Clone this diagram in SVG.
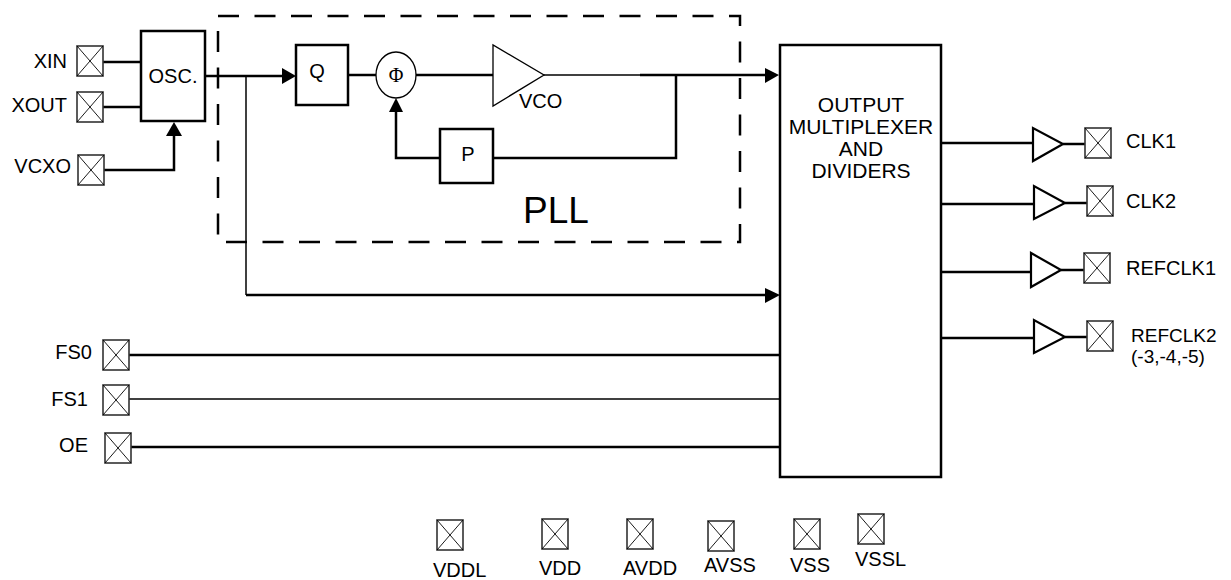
<svg xmlns="http://www.w3.org/2000/svg" xmlns:xlink="http://www.w3.org/1999/xlink" width="1231" height="580" viewBox="0 0 1231 580">
<style>
  text { font-family: "Liberation Sans", Arial, sans-serif; font-size: 20px; fill: #000; }
  .box { fill: #fff; stroke: #000; stroke-width: 2.5; }
  .thin { fill: #fff; stroke: #000; stroke-width: 1.3; }
  .w { fill: none; stroke: #000; stroke-width: 2.5; }
  .wt { fill: none; stroke: #000; stroke-width: 1.5; }
  .ah { fill: #000; stroke: none; }
  .buf { fill: #fff; stroke: #000; stroke-width: 2.2; }
  .big { font-size: 21px; }
  .pll { font-size: 37px; }
  .sm { font-size: 19px; }
  .mid { text-anchor: middle; }
  .end { text-anchor: end; }
</style>
<defs>
  <symbol id="pad" viewBox="0 0 26 30" width="26" height="30" overflow="visible">
    <rect x="0" y="0" width="26" height="30" fill="#fff" stroke="#333" stroke-width="1.6"/>
    <path d="M0,0 L26,30 M26,0 L0,30" stroke="#000" stroke-width="0.9" fill="none"/>
  </symbol>
</defs>
<rect width="1231" height="580" fill="#fff"/>

<g id="pll-frame">
  <rect x="218" y="16" width="522" height="226" fill="none" stroke="#000" stroke-width="2.5" stroke-dasharray="21 15.5"/>
  <text class="pll" x="523" y="223">PLL</text>
</g>

<g id="connectors">
  <path class="w" d="M102,62 H141"/>
  <path class="w" d="M102,107 H141"/>
  <path class="w" d="M104,170 H174 V134"/>
  <polygon class="ah" points="174,122 166,136 182,136"/>
  <path class="w" d="M205,76 H283"/>
  <polygon class="ah" points="296,76 282,68 282,84"/>
  <path class="wt" d="M246,76 V295"/>
  <path class="w" d="M246,295 H766"/>
  <polygon class="ah" points="780,295 765,288 765,303"/>
  <path class="w" d="M348,75 H376"/>
  <path class="w" d="M416,75 H493"/>
  <path class="wt" d="M544,75 H640"/>
  <path class="w" d="M640,75 H766"/>
  <polygon class="ah" points="779,75 765,68 765,83"/>
  <path class="w" d="M676,75 V158 H493"/>
  <path class="w" d="M440,158 H396 V112"/>
  <polygon class="ah" points="396,98 389,112 403,112"/>
  <path class="w" d="M129,355 H780"/>
  <path class="wt" d="M129,399 H780"/>
  <path class="w" d="M131,447 H780"/>
  <path class="w" d="M941,143 H1033"/>
  <path class="w" d="M1063,144 H1085"/>
  <path class="w" d="M941,204 H1034"/>
  <path class="w" d="M1065,203 H1087"/>
  <path class="w" d="M941,272 H1031"/>
  <path class="w" d="M1061,270 H1084"/>
  <path class="w" d="M941,338 H1034"/>
  <path class="w" d="M1065,337 H1087"/>
</g>

<g id="osc">
  <rect class="box" x="141" y="31" width="64" height="90"/>
  <text class="mid" x="173" y="83">OSC.</text>
</g>
<g id="q">
  <rect class="box" x="296" y="45" width="52" height="60"/>
  <text class="mid" x="317" y="78">Q</text>
</g>
<g id="phi">
  <ellipse class="thin" cx="396" cy="75" rx="20" ry="23"/>
  <text class="mid" x="396" y="82" style="font-family:'Liberation Serif','Times New Roman',serif;font-size:20px">Φ</text>
</g>
<g id="vco">
  <polygon class="thin" points="493,45 493,106 544,75"/>
  <text x="519" y="108">VCO</text>
</g>
<g id="p">
  <rect class="box" x="440" y="129" width="53" height="54"/>
  <text class="mid" x="468" y="161">P</text>
</g>
<g id="mux">
  <rect class="box" x="780" y="45" width="161" height="432"/>
  <text class="big mid" x="861" y="112">OUTPUT</text>
  <text class="big mid" x="861" y="134">MULTIPLEXER</text>
  <text class="big mid" x="861" y="156">AND</text>
  <text class="big mid" x="861" y="178">DIVIDERS</text>
</g>

<g id="buf-clk1"><polygon class="buf" points="1033,128 1033,161 1063,144"/></g>
<g id="buf-clk2"><polygon class="buf" points="1034,186 1034,219 1065,203"/></g>
<g id="buf-refclk1"><polygon class="buf" points="1031,253 1031,287 1061,270"/></g>
<g id="buf-refclk2"><polygon class="buf" points="1034,320 1034,353 1065,337"/></g>

<g id="pad-xin"><use xlink:href="#pad" x="77" y="46"/><text class="end" x="67" y="68">XIN</text></g>
<g id="pad-xout"><use xlink:href="#pad" x="77" y="92"/><text class="end" x="67" y="112">XOUT</text></g>
<g id="pad-vcxo"><use xlink:href="#pad" x="78" y="155"/><text class="end" x="71" y="173">VCXO</text></g>
<g id="pad-fs0"><use xlink:href="#pad" x="103" y="340"/><text class="end" x="92" y="359">FS0</text></g>
<g id="pad-fs1"><use xlink:href="#pad" x="103" y="385"/><text class="end" x="88" y="406">FS1</text></g>
<g id="pad-oe"><use xlink:href="#pad" x="105" y="433"/><text class="end" x="88" y="452">OE</text></g>
<g id="pad-clk1"><use xlink:href="#pad" x="1085" y="128"/><text x="1126" y="148">CLK1</text></g>
<g id="pad-clk2"><use xlink:href="#pad" x="1087" y="186"/><text x="1126" y="208">CLK2</text></g>
<g id="pad-refclk1"><use xlink:href="#pad" x="1084" y="253"/><text x="1126" y="275">REFCLK1</text></g>
<g id="pad-refclk2"><use xlink:href="#pad" x="1087" y="321"/><text class="sm" x="1131" y="342">REFCLK2</text><text class="sm" x="1131" y="363">(-3,-4,-5)</text></g>
<g id="pad-vddl"><use xlink:href="#pad" x="437" y="520"/><text x="433" y="577">VDDL</text></g>
<g id="pad-vdd"><use xlink:href="#pad" x="542" y="519"/><text x="539" y="575">VDD</text></g>
<g id="pad-avdd"><use xlink:href="#pad" x="627" y="519"/><text x="623" y="575">AVDD</text></g>
<g id="pad-avss"><use xlink:href="#pad" x="708" y="521"/><text x="704" y="572">AVSS</text></g>
<g id="pad-vss"><use xlink:href="#pad" x="794" y="519"/><text x="790" y="572">VSS</text></g>
<g id="pad-vssl"><use xlink:href="#pad" x="858" y="514"/><text x="855" y="566">VSSL</text></g>
</svg>
